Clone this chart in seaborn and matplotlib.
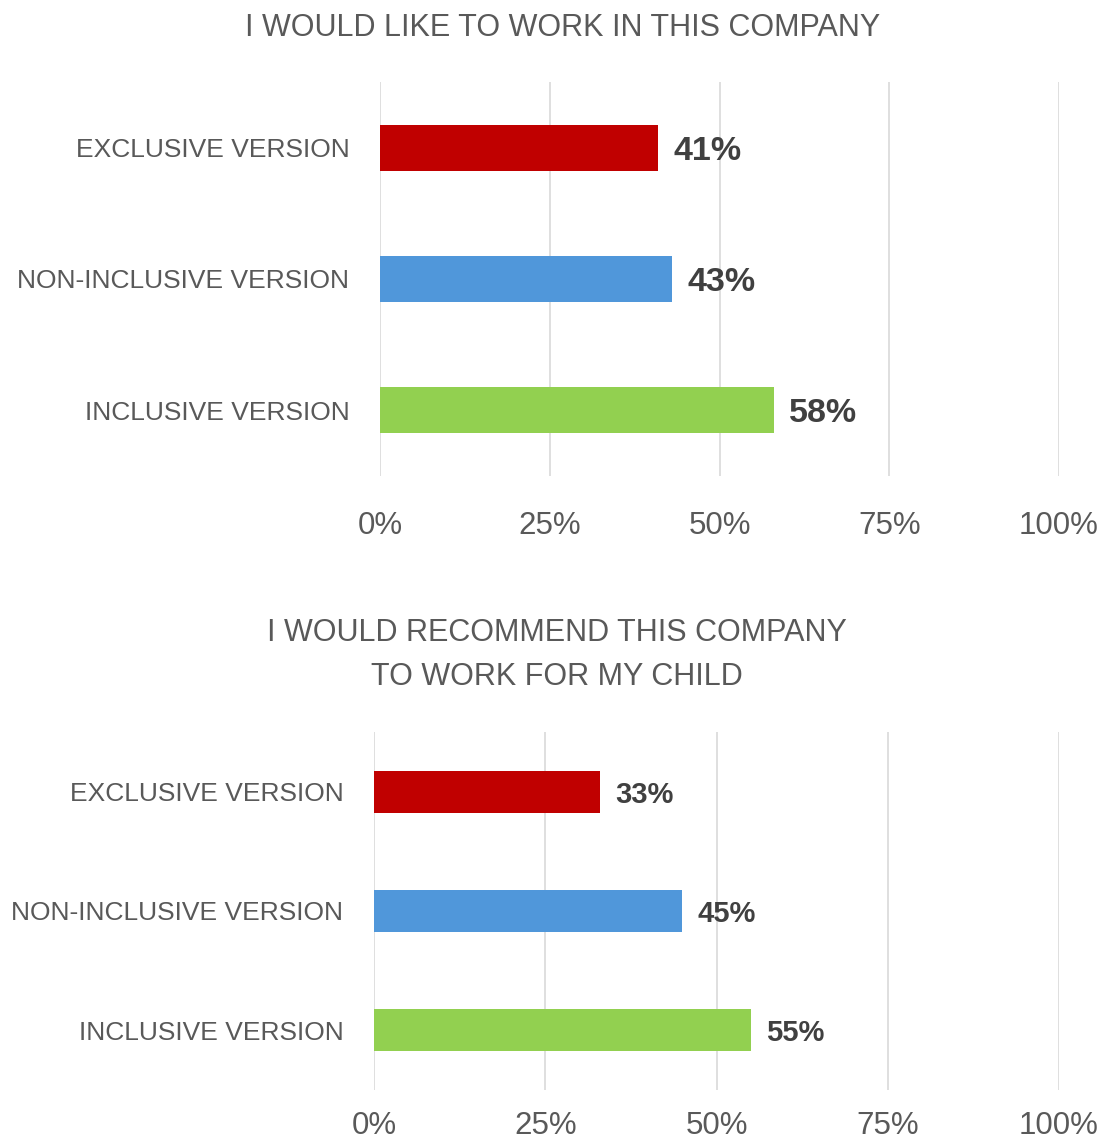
import matplotlib
matplotlib.use("Agg")
import matplotlib.pyplot as plt
import seaborn as sns
import pandas as pd

categories = ["EXCLUSIVE VERSION", "NON-INCLUSIVE VERSION", "INCLUSIVE VERSION"]
work_values = [41, 43, 58]
recommend_values = [33, 45, 55]
tick_values = [0, 25, 50, 75, 100]
tick_labels = ["0%", "25%", "50%", "75%", "100%"]
bar_colors = ["#C00000", "#5097DA", "#92D050"]

TEXT = "#595959"

sns.set_theme(style="white")
plt.rcParams["font.family"] = ["Liberation Sans", "DejaVu Sans"]

fig = plt.figure(figsize=(11.04, 11.44), dpi=100)
ax_top = fig.add_axes([380 / 1104, 1 - 476 / 1144, 679 / 1104, 394 / 1144])
ax_bot = fig.add_axes([374 / 1104, 1 - 1090 / 1144, 685 / 1104, 358 / 1144])


def draw_panel(ax, values, value_size, tick_pad):
    df = pd.DataFrame({"category": categories, "value": values})
    sns.barplot(data=df, x="value", y="category", hue="category",
                palette=bar_colors, saturation=1, orient="h", width=0.35,
                legend=False, ax=ax, zorder=3, edgecolor="none")
    ax.set_xlim(0, 100)
    ax.set_ylim(2.5, -0.5)
    ax.set_xticks(tick_values)
    ax.set_xticklabels(tick_labels)
    ax.set_xlabel("")
    ax.set_ylabel("")
    for x in tick_values:
        ax.axvline(x, color="#D9D9D9", lw=1.2, zorder=1)
    for s in ax.spines.values():
        s.set_visible(False)
    ax.tick_params(axis="x", length=0, pad=tick_pad, labelsize=22.5, labelcolor=TEXT)
    ax.tick_params(axis="y", length=0, pad=22, labelsize=19, labelcolor=TEXT)
    for cont in ax.containers:
        labels = ax.bar_label(cont, fmt="%d%%", padding=11, fontsize=value_size,
                              fontweight="bold", color="#404040")
        for t in labels:
            t.set_va("center_baseline")


draw_panel(ax_top, work_values, 24.5, 25)
draw_panel(ax_bot, recommend_values, 21, 15)

fig.text(563 / 1104, 1 - 28 / 1144, "I WOULD LIKE TO WORK IN THIS COMPANY",
         ha="center", va="center", fontsize=22, color=TEXT)
fig.text(557 / 1104, 1 - 633 / 1144, "I WOULD RECOMMEND THIS COMPANY",
         ha="center", va="center", fontsize=22, color=TEXT)
fig.text(557 / 1104, 1 - 677 / 1144, "TO WORK FOR MY CHILD",
         ha="center", va="center", fontsize=22, color=TEXT)

fig.savefig("out.png", dpi=100)
